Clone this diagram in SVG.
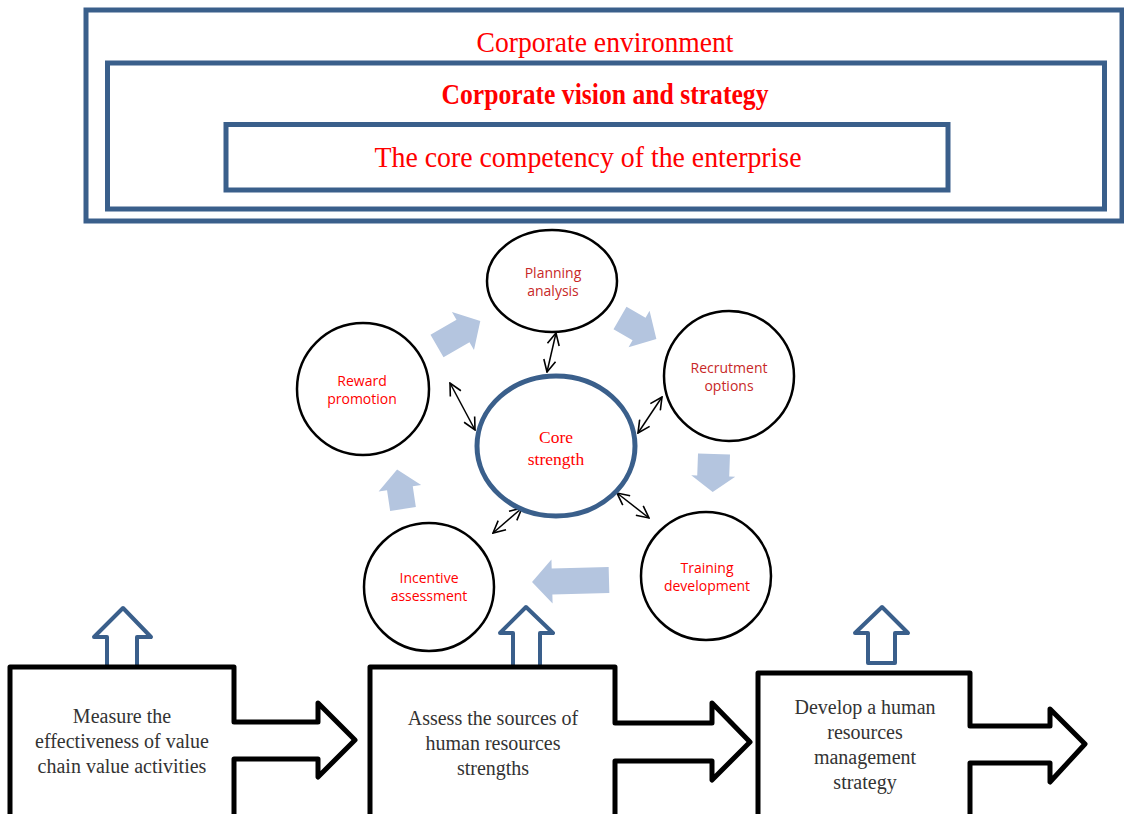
<svg xmlns="http://www.w3.org/2000/svg" width="1124" height="814" viewBox="0 0 1124 814">
<defs>
<style>
.frame{fill:none;stroke:#3A5F8B;stroke-width:5}
.ttl{font-family:"Liberation Serif",serif;fill:#FF0000;text-anchor:middle}
.circ{fill:#fff;stroke:#000;stroke-width:2.5}
.core{fill:#fff;stroke:#3A5F8B;stroke-width:5}
.lbl{font-family:"Open Sans","Liberation Sans",Arial,sans-serif;font-size:14px;text-anchor:middle}
.red{fill:#FF0000}
.dred{fill:#C82828}
.flow{fill:#B4C5DF;stroke:none}
.dbl{stroke:#000;stroke-width:1.5;fill:none;marker-start:url(#v);marker-end:url(#v)}
.step{fill:#fff;stroke:#000;stroke-width:5;stroke-linejoin:round}
.up{fill:#fff;stroke:#3A5F8B;stroke-width:4;stroke-linejoin:round}
.btx{font-family:"Liberation Serif",serif;font-size:20px;fill:#333;text-anchor:middle}
</style>
<marker id="v" viewBox="0 0 14 14" refX="13" refY="7" markerWidth="14" markerHeight="14" markerUnits="userSpaceOnUse" orient="auto-start-reverse">
<path d="M1,1 L13,7 L1,13" fill="none" stroke="#000" stroke-width="1.6"/>
</marker>
</defs>
<rect width="1124" height="814" fill="#fff"/>

<g id="corporate-environment">
<rect class="frame" x="86" y="10" width="1036" height="211"/>
<text class="ttl" x="605" y="52" font-size="30" textLength="257" lengthAdjust="spacingAndGlyphs">Corporate environment</text>
</g>
<g id="corporate-vision">
<rect class="frame" x="107.5" y="63" width="997" height="146"/>
<text class="ttl" x="605" y="104" font-size="30" font-weight="bold" textLength="327" lengthAdjust="spacingAndGlyphs">Corporate vision and strategy</text>
</g>
<g id="core-competency">
<rect class="frame" x="226" y="124.5" width="722" height="65.5"/>
<text class="ttl" x="588" y="167" font-size="30" textLength="427" lengthAdjust="spacingAndGlyphs">The core competency of the enterprise</text>
</g>

<g id="connectors">
<polygon class="flow" points="0,-13 30,-13 30,-22 50,0 30,22 30,13 0,13" transform="translate(437,346) rotate(-30)"/>
<polygon class="flow" points="0,-13 22,-13 22,-21 42,0 22,21 22,13 0,13" transform="translate(620,318) rotate(30)"/>
<polygon class="flow" points="0,-16 22,-16 22,-22 38,0 22,22 22,16 0,16" transform="translate(714,454) rotate(92)"/>
<polygon class="flow" points="0,-13 57,-13 57,-22 77,0 57,22 57,13 0,13" transform="translate(609,580) rotate(178.5)"/>
<polygon class="flow" points="0,-13 21,-13 21,-21.5 40,0 21,21.5 21,13 0,13" transform="translate(403,509) rotate(-98.5)"/>
<line class="dbl" x1="556" y1="333" x2="547" y2="372"/>
<line class="dbl" x1="450" y1="383" x2="475" y2="430"/>
<line class="dbl" x1="662" y1="397" x2="638" y2="433"/>
<line class="dbl" x1="617" y1="493" x2="649" y2="518"/>
<line class="dbl" x1="522" y1="508" x2="493" y2="533"/>
<polygon class="up" points="107,667 107,637 94,637 123,608 151,637 137,637 137,667"/>
<polygon class="up" points="513,667 513,633 500,633 526,607 553,633 540,633 540,667"/>
<polygon class="up" points="868,663 868,633 855,633 882,607 908,633 895,633 895,663"/>
</g>

<g id="planning-analysis">
<ellipse class="circ" cx="552" cy="281" rx="65" ry="51"/>
<text class="lbl dred" x="553" y="278">Planning</text>
<text class="lbl dred" x="553" y="296">analysis</text>
</g>
<g id="recrutment-options">
<ellipse class="circ" cx="729" cy="376" rx="65" ry="65"/>
<text class="lbl dred" x="729" y="373">Recrutment</text>
<text class="lbl dred" x="729" y="391">options</text>
</g>
<g id="training-development">
<ellipse class="circ" cx="706" cy="576" rx="65" ry="64"/>
<text class="lbl red" x="707" y="573">Training</text>
<text class="lbl red" x="707" y="591">development</text>
</g>
<g id="incentive-assessment">
<ellipse class="circ" cx="429" cy="587" rx="65" ry="64"/>
<text class="lbl red" x="429" y="583">Incentive</text>
<text class="lbl red" x="429" y="601">assessment</text>
</g>
<g id="reward-promotion">
<ellipse class="circ" cx="363" cy="389" rx="66" ry="66"/>
<text class="lbl red" x="362" y="386">Reward</text>
<text class="lbl red" x="362" y="404">promotion</text>
</g>
<g id="core-strength">
<ellipse class="core" cx="556" cy="446" rx="79" ry="70"/>
<text class="ttl" x="556" y="443" font-size="17.5">Core</text>
<text class="ttl" x="556" y="465" font-size="17.5">strength</text>
</g>

<g id="measure-value-chain">
<path class="step" d="M10,820 L10,667 L234,667 L234,722 L318,722 L318,703 L355,740 L318,777 L318,759 L234,759 L234,820"/>
<text class="btx" x="122" y="723">Measure the</text>
<text class="btx" x="122" y="748">effectiveness of value</text>
<text class="btx" x="122" y="773">chain value activities</text>
</g>
<g id="assess-sources">
<path class="step" d="M370,820 L370,667 L615,667 L615,723 L712,723 L712,703 L750,742 L712,780 L712,761 L615,761 L615,820"/>
<text class="btx" x="493" y="725">Assess the sources of</text>
<text class="btx" x="493" y="750">human resources</text>
<text class="btx" x="493" y="775">strengths</text>
</g>
<g id="develop-strategy">
<path class="step" d="M758,820 L758,673 L970,673 L970,726 L1050,726 L1050,709 L1085,744 L1050,782 L1050,763 L970,763 L970,820"/>
<text class="btx" x="865" y="714">Develop a human</text>
<text class="btx" x="865" y="739">resources</text>
<text class="btx" x="865" y="764">management</text>
<text class="btx" x="865" y="789">strategy</text>
</g>
</svg>
